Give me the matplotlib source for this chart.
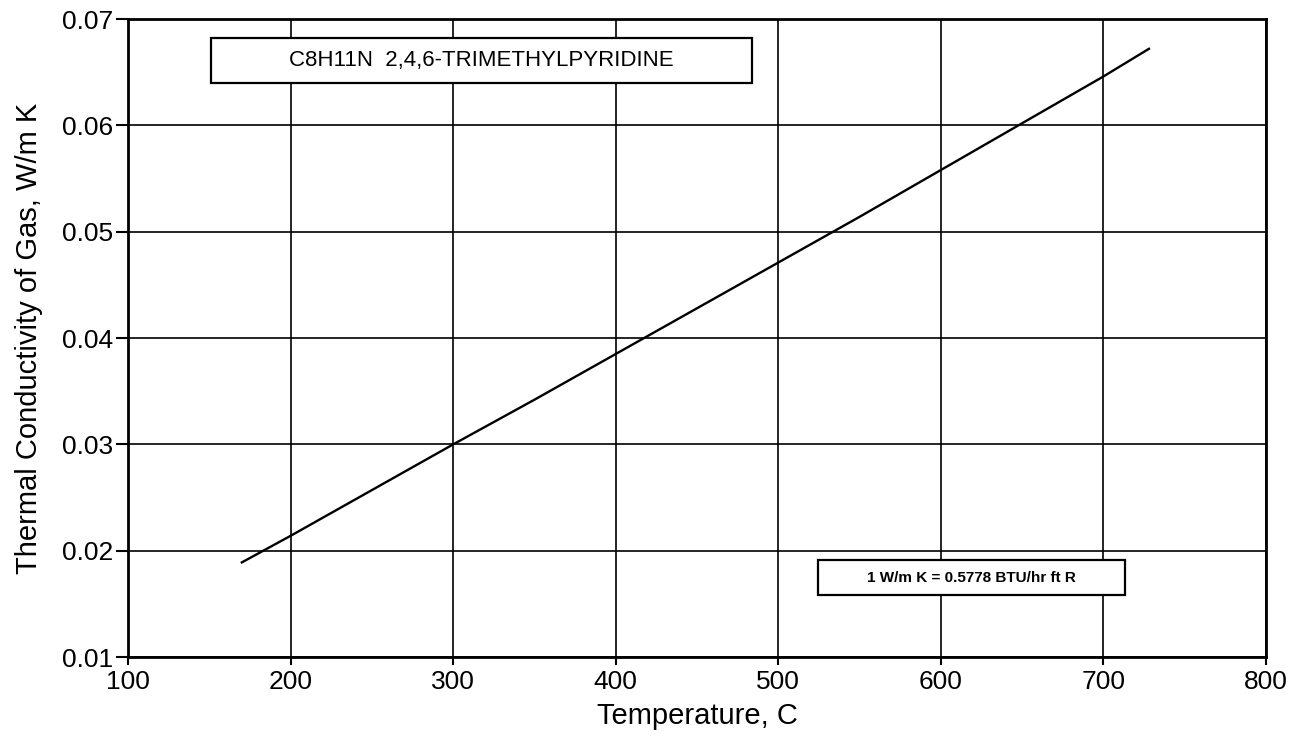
import matplotlib
matplotlib.use("Agg")
import matplotlib.pyplot as plt
from matplotlib.patches import Rectangle

plt.rcParams['font.family'] = ['Liberation Sans', 'DejaVu Sans']

temperature = [170, 200, 250, 300, 350, 400, 450, 500, 550, 600, 650, 700, 728]
conductivity = [0.0189, 0.0214, 0.0257, 0.0300, 0.0342, 0.0385, 0.0428, 0.0471, 0.0514, 0.0558, 0.0602, 0.0646, 0.0672]

x_ticks = [100, 200, 300, 400, 500, 600, 700, 800]
y_ticks = [0.01, 0.02, 0.03, 0.04, 0.05, 0.06, 0.07]

title_text = "C8H11N  2,4,6-TRIMETHYLPYRIDINE"
note_text = "1 W/m K = 0.5778 BTU/hr ft R"

fig = plt.figure(figsize=(13.08, 7.37), dpi=100)
ax = fig.add_axes([0.0979, 0.1085, 0.8700, 0.8657])

ax.plot(temperature, conductivity, color='black', lw=1.7, zorder=3)

ax.set_xlim(100, 800)
ax.set_ylim(0.01, 0.07)
ax.set_xticks(x_ticks)
ax.set_yticks(y_ticks)
ax.set_xticklabels([str(v) for v in x_ticks])
ax.set_yticklabels([f"{v:.2f}" for v in y_ticks])
ax.grid(True, color='black', lw=1.2)
ax.tick_params(axis='x', labelsize=19, direction='out', length=6, width=1.5, pad=3)
ax.tick_params(axis='y', labelsize=19, direction='out', length=9, width=1.5, pad=2)
for s in ax.spines.values():
    s.set_linewidth(2)

ax.set_xlabel("Temperature, C", fontsize=21, labelpad=6)
ax.set_ylabel("Thermal Conductivity of Gas, W/m K", fontsize=21, labelpad=13)

# title box
bx, by, bw, bh = 0.0729, 0.8997, 0.4754, 0.0705
ax.add_patch(Rectangle((bx, by), bw, bh, transform=ax.transAxes,
                       facecolor='white', edgecolor='black', lw=1.6, zorder=4))
ax.text(bx + bw / 2, by + bh / 2, title_text, transform=ax.transAxes,
        ha='center', va='center', fontsize=16, zorder=5)

# note box
nx, ny, nw, nh = 0.6063, 0.0972, 0.2698, 0.0549
ax.add_patch(Rectangle((nx, ny), nw, nh, transform=ax.transAxes,
                       facecolor='white', edgecolor='black', lw=1.6, zorder=4))
ax.text(nx + nw / 2, ny + nh / 2, note_text, transform=ax.transAxes,
        ha='center', va='center', fontsize=11, fontweight='bold', zorder=5)

fig.savefig("out.png", dpi=100)
